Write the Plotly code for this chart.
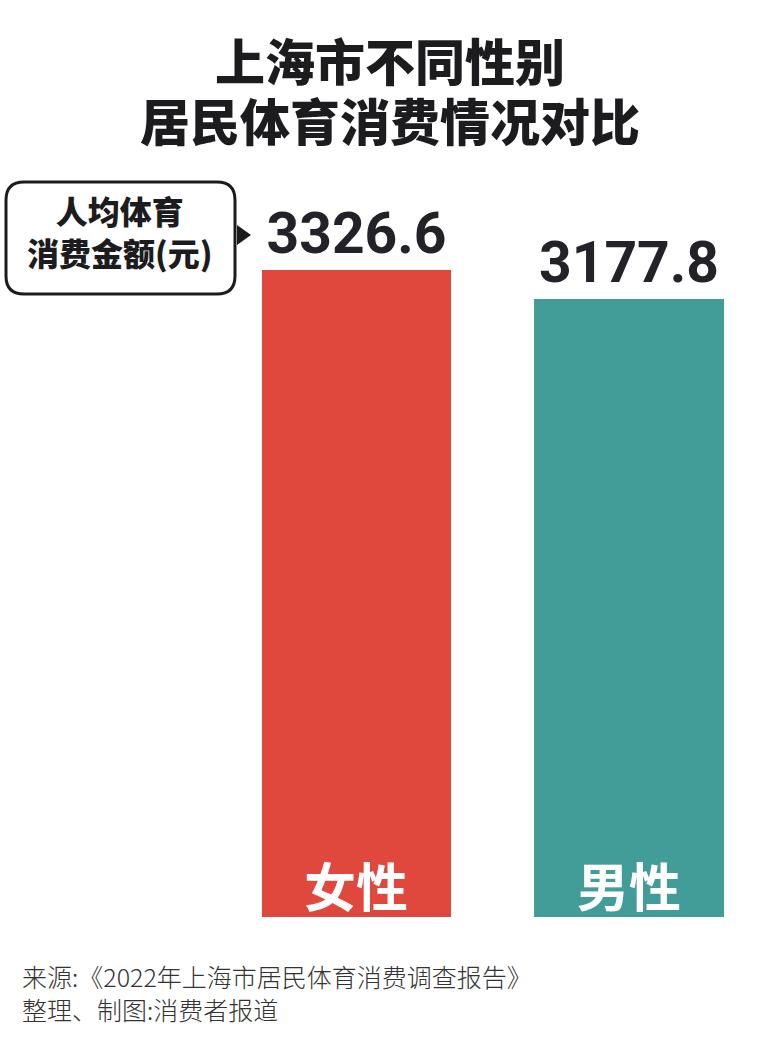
import plotly.graph_objects as go

# data
genders = ["女性", "男性"]
spend = [3326.6, 3177.8]
bar_colors = ["#E0483D", "#429C98"]

title_lines = ["上海市不同性别", "居民体育消费情况对比"]
unit_lines = ["人均体育", "消费金额(元)"]
source_lines = ["来源:《2022年上海市居民体育消费调查报告》", "整理、制图:消费者报道"]

cjk = "Noto Sans CJK SC"
num_font = "Roboto"
ink = "#1c1c1f"

W, H = 762, 1046
PLOT_H = 917  # plot area height in px (margin b = H - PLOT_H)


def px(x, y):
    # page pixels -> paper coords
    return x / W, 1 - y / PLOT_H


fig = go.Figure()
fig.add_trace(go.Bar(
    x=genders, y=spend,
    marker=dict(color=bar_colors, line=dict(width=0)),
    width=0.694,
    text=[f"{v:.1f}" for v in spend],
    textposition="outside",
    textfont=dict(family=num_font, size=57, color="#222228", weight="bold"),
    cliponaxis=False,
    hoverinfo="skip",
))

# category names at the foot of the bars
for g in genders:
    fig.add_annotation(x=g, y=0, yanchor="bottom", yshift=-7, text=g,
                       showarrow=False,
                       font=dict(family=cjk, size=52, color="white", weight="bold"))

# title, one annotation per line (tighter leading than <br> gives)
for line, ymid in zip(title_lines, [59, 119]):
    tx, ty = px(390, ymid)
    fig.add_annotation(xref="paper", yref="paper", x=tx, y=ty,
                       xanchor="center", yanchor="middle", text=line, showarrow=False,
                       font=dict(family=cjk, size=50, color=ink, weight=900))

# rounded box for the unit label
x0, y0 = px(6, 182)
x1, y1 = px(235, 294)
rx, ry = 18 / W, 18 / PLOT_H
box = (f"M {x0+rx},{y0} L {x1-rx},{y0} Q {x1},{y0} {x1},{y0-ry} "
       f"L {x1},{y1+ry} Q {x1},{y1} {x1-rx},{y1} L {x0+rx},{y1} "
       f"Q {x0},{y1} {x0},{y1+ry} L {x0},{y0-ry} Q {x0},{y0} {x0+rx},{y0} Z")
fig.add_shape(type="path", xref="paper", yref="paper", path=box,
              line=dict(color=ink, width=3), fillcolor="white")

# little arrow head pointing at the value
ax0, ay0 = px(237, 225)
ax1, ay1 = px(251, 235)
_, ay2 = px(237, 245)
fig.add_shape(type="path", xref="paper", yref="paper",
              path=f"M {ax0},{ay0} L {ax1},{ay1} L {ax0},{ay2} Z",
              line=dict(width=0), fillcolor=ink)

ux, uy = px(120.5, 231)
fig.add_annotation(xref="paper", yref="paper", x=ux, y=uy,
                   xanchor="center", yanchor="middle", align="center",
                   text="<br>".join(unit_lines), showarrow=False,
                   font=dict(family=cjk, size=32, color=ink, weight=900))

# source note
sx, sy = px(20, 956)
fig.add_annotation(xref="paper", yref="paper", x=sx, y=sy,
                   xanchor="left", yanchor="top", align="left",
                   text="<br>".join(source_lines), showarrow=False,
                   font=dict(family=cjk, size=25, color="#333333", weight=300))

fig.update_layout(
    width=W, height=H,
    margin=dict(l=0, r=0, t=0, b=H - PLOT_H),
    paper_bgcolor="white", plot_bgcolor="white",
    showlegend=False,
    xaxis=dict(range=[-1.308, 1.488], visible=False),
    yaxis=dict(range=[0, 4715], visible=False),
    bargap=0,
)

# drop the default 8px body margin so the figure sits at the page corner
fig.write_html("out.html", config={"displayModeBar": False},
               post_script="document.body.style.margin='0';")
